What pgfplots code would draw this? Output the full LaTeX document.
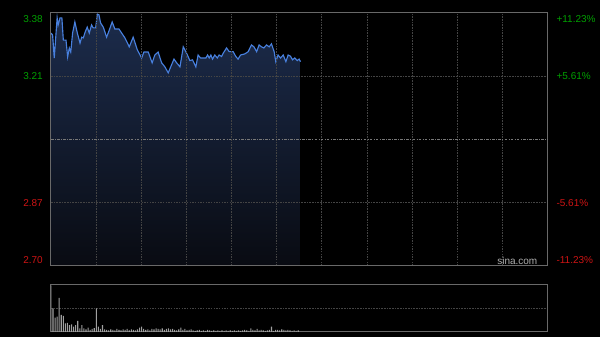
\documentclass[border=0pt]{standalone}
\usepackage{pgfplots}
\usepackage{pgfplotstable}
\pgfplotsset{compat=1.18}
\usepackage{fontspec}
\setmainfont{Liberation Sans}
\definecolor{upgreen}{RGB}{0,160,0}
\definecolor{downred}{RGB}{205,20,20}
\definecolor{framec}{RGB}{105,105,105}
\definecolor{gridc}{RGB}{68,68,68}
\definecolor{midc}{RGB}{120,120,120}
\definecolor{lineblue}{RGB}{72,128,222}
\definecolor{filltop}{RGB}{28,44,76}
\definecolor{fillbot}{RGB}{9,11,18}
\definecolor{volc}{RGB}{160,160,160}
\definecolor{wm}{RGB}{175,175,175}

\pgfplotstableread{
m p
0 3.326
0.8 3.321
1.6 3.259
3.0 3.367
3.5 3.348
4.4 3.367
5.3 3.367
6.0 3.307
7.3 3.307
8.1 3.262
8.9 3.286
9.6 3.275
10.5 3.326
11.6 3.356
12.8 3.326
14.1 3.299
14.9 3.315
15.7 3.313
16.6 3.329
17.6 3.342
18.6 3.326
19.7 3.348
20.5 3.340
21.7 3.340
22.5 3.377
23.3 3.375
24.1 3.353
25.4 3.342
27.0 3.315
28.3 3.334
29.7 3.356
31.0 3.337
33.0 3.337
34.3 3.326
35.9 3.313
38.0 3.289
39.9 3.315
41.9 3.281
44.0 3.259
45.1 3.275
47.2 3.275
49.1 3.246
50.4 3.267
52.0 3.275
53.7 3.246
55.3 3.235
56.9 3.219
58.1 3.235
59.7 3.256
61.0 3.246
62.6 3.235
64.2 3.289
65.8 3.272
67.4 3.252
68.7 3.254
70.3 3.235
71.4 3.267
72.6 3.259
75.2 3.259
76.0 3.267
76.8 3.259
77.6 3.267
78.4 3.256
79.5 3.267
80.7 3.259
81.6 3.267
82.8 3.263
83.6 3.272
85.2 3.286
86.5 3.276
88.4 3.276
89.7 3.263
90.8 3.256
92.0 3.267
94.1 3.270
95.7 3.276
97.3 3.294
98.5 3.289
99.8 3.276
101.0 3.294
102.2 3.289
103.3 3.286
104.6 3.294
105.9 3.289
107.0 3.297
108.3 3.276
109.1 3.249
110.2 3.267
111.4 3.259
112.7 3.267
114.0 3.249
115.1 3.267
116.2 3.264
117.2 3.254
118.3 3.259
119.5 3.252
120.4 3.256
121.1 3.249
}\pricedata

\pgfplotstableread{
m v
0 99
1 50
2 30
3 32
4 72
5 36
6 34
7 18
8 19
9 14
10 16
11 11
12 14
13 23
14 7
15 14
16 7
17 5
18 9
19 4
20 6
21 8
22 50
23 11
24 6
25 14
26 5
27 4
28 3
29 5
30 4
31 3
32 6
33 4
34 3
35 5
36 4
37 6
38 3
39 5
40 4
41 3
42 5
43 9
44 11
45 6
46 4
47 5
48 3
49 6
50 5
51 7
52 6
53 5
54 7
55 4
56 6
57 7
58 5
59 6
60 4
61 3
62 5
63 9
64 4
65 6
66 3
67 4
68 5
69 3
70 2
71 3
72 4
73 2
74 3
75 2
76 4
77 3
78 2
79 3
80 2
81 3
82 2
83 3
84 2
85 3
86 2
87 3
88 2
89 3
90 2
91 3
92 2
93 3
94 4
95 3
96 2
97 7
98 4
99 3
100 6
101 3
102 4
103 3
104 2
105 3
106 4
107 11
108 2
109 4
110 4
111 3
112 5
113 4
114 3
115 4
116 3
117 2
118 3
119 2
120 3
}\voldata

\begin{document}
\begin{tikzpicture}[x=1pt,y=1pt]
\fill[black] (0,0) rectangle (450,252.75);
\begin{axis}[
  at={(38.25pt,53.25pt)}, anchor=south west,
  scale only axis, width=372.75pt, height=189.75pt,
  xmin=0, xmax=241, ymin=2.70, ymax=3.38,
  axis on top, clip mode=individual,
  axis line style={framec, line width=0.75pt},
  xtick={21.91,43.82,65.73,87.64,109.55,131.45,153.36,175.27,197.18,219.09},
  ytick={2.87,3.21},
  extra y ticks={3.04},
  extra y tick style={grid style={midc, dash pattern=on 2pt off 1pt on 0.6pt off 1pt, line width=0.5pt}},
  xticklabels={}, yticklabels={}, extra y tick labels={},
  major tick length=0pt,
  grid=major,
  grid style={gridc, dash pattern=on 1.2pt off 0.8pt, line width=0.6pt},
  font=\fontsize{7.5}{9}\selectfont,
]
\addplot[draw=none, top color=filltop, bottom color=fillbot] table[x=m,y=p] {\pricedata} -- (121.1,2.70) -- (0,2.70) -- cycle;
\addplot[lineblue, line width=0.85pt, mark=none] table[x=m,y=p] {\pricedata};
\node[anchor=east, text=upgreen, xshift=-2.6pt, yshift=-4.5pt] at (rel axis cs:0,1) {3.38};
\node[anchor=east, text=upgreen, xshift=-2.6pt] at (axis cs:0,3.21) {3.21};
\node[anchor=east, text=downred, xshift=-2.6pt] at (axis cs:0,2.87) {2.87};
\node[anchor=east, text=downred, xshift=-2.6pt, yshift=4.5pt] at (rel axis cs:0,0) {2.70};
\node[anchor=west, text=upgreen, xshift=3.2pt, yshift=-4.5pt] at (rel axis cs:1,1) {+11.23\%};
\node[anchor=west, text=upgreen, xshift=3.2pt] at (axis cs:241,3.21) {+5.61\%};
\node[anchor=west, text=downred, xshift=3.2pt] at (axis cs:241,2.87) {-5.61\%};
\node[anchor=west, text=downred, xshift=3.2pt, yshift=4.5pt] at (rel axis cs:1,0) {-11.23\%};
\node[text=wm, yshift=4pt] at (rel axis cs:0.939,0) {sina.com};
\end{axis}
\begin{axis}[
  at={(38.25pt,3.75pt)}, anchor=south west,
  scale only axis, width=372.75pt, height=35.25pt,
  xmin=0, xmax=241, ymin=0, ymax=100,
  axis line style={framec, line width=0.75pt},
  xtick=\empty, ytick={50}, yticklabels={},
  major tick length=0pt,
  ymajorgrids,
  grid style={gridc, dash pattern=on 1.2pt off 0.8pt, line width=0.6pt},
]
\addplot[ybar, bar width=0.8pt, fill=volc, draw=none] table[x=m,y=v] {\voldata};
\end{axis}
\end{tikzpicture}
\end{document}
